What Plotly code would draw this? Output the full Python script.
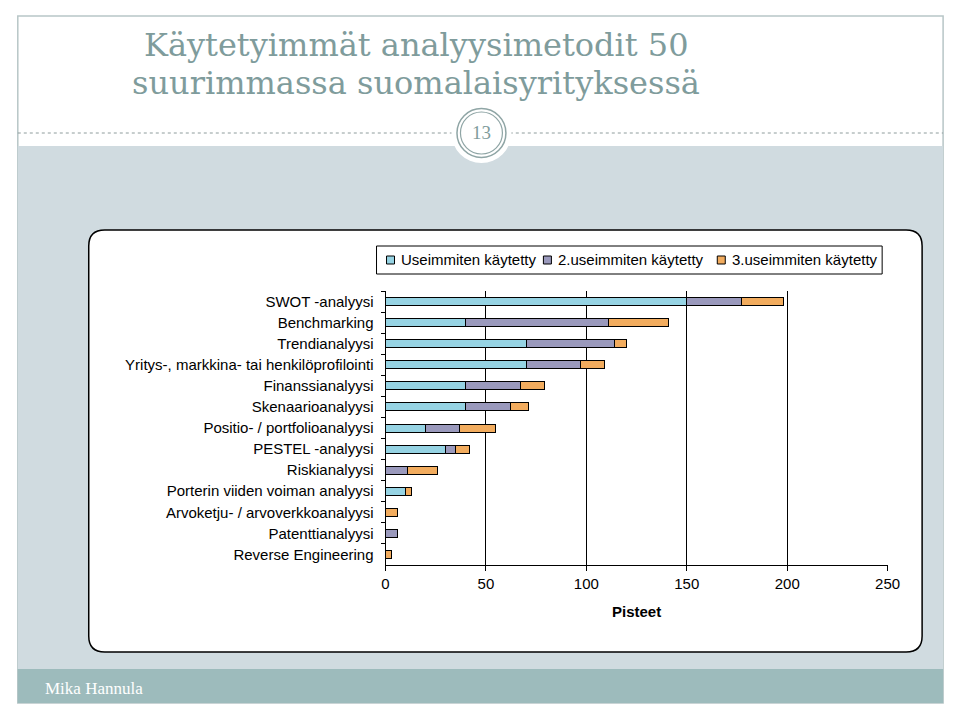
import plotly.graph_objects as go

# ---- data ----
categories = [
    "SWOT -analyysi",
    "Benchmarking",
    "Trendianalyysi",
    "Yritys-, markkina- tai henkilöprofilointi",
    "Finanssianalyysi",
    "Skenaarioanalyysi",
    "Positio- / portfolioanalyysi",
    "PESTEL -analyysi",
    "Riskianalyysi",
    "Porterin viiden voiman analyysi",
    "Arvoketju- / arvoverkkoanalyysi",
    "Patenttianalyysi",
    "Reverse Engineering",
]
most_used = [150, 40, 70, 70, 40, 40, 20, 30, None, 10, None, None, None]
second_used = [27, 71, 44, 27, 27, 22, 17, 5, 11, None, None, 6, None]
third_used = [21, 30, 6, 12, 12, 9, 18, 7, 15, 3, 6, None, 3]
series_names = ["Useimmiten käytetty", "2.useimmiten käytetty", "3.useimmiten käytetty"]
x_ticks = [0, 50, 100, 150, 200, 250]

colors = ["#96D3E3", "#9A99BC", "#F2AC5E"]

# figure sized to fit inside the 960x720 window with the page's body margin
OFF_Y = 8
W, H = 944, 704
# observed horizontal placement of the figure in the photographed page
X_ORIGIN, X_SPAN = 11.2, 927.7


def px(x):
    """screen pixel x -> paper fraction"""
    return (x - X_ORIGIN) / X_SPAN


def py(y):
    """screen pixel y (from top) -> paper fraction"""
    return 1 - (y - OFF_Y) / H


SANS = "Liberation Sans, Arial, sans-serif"
TSERIF = "Liberation Serif, Times New Roman, serif"
DSERIF = "DejaVu Serif, Georgia, serif"
TITLE_COL = "#7F9C9C"

fig = go.Figure()
for name, vals, col in zip(series_names, [most_used, second_used, third_used], colors):
    fig.add_trace(go.Bar(
        y=categories, x=vals, name=name, orientation="h",
        marker=dict(color=col, line=dict(color="black", width=1)),
        showlegend=False,
    ))

shapes = []
# slide frame
shapes.append(dict(type="rect", xref="paper", yref="paper", x0=px(17), x1=px(943), y0=py(703), y1=py(16),
                   fillcolor="white", line=dict(color="#B8C6C7", width=1.5), layer="below"))
# content band
shapes.append(dict(type="rect", xref="paper", yref="paper", x0=px(17), x1=px(943), y0=py(669), y1=py(146),
                   fillcolor="#D0DBE0", line=dict(width=0), layer="below"))
# footer band
shapes.append(dict(type="rect", xref="paper", yref="paper", x0=px(17), x1=px(943), y0=py(703), y1=py(669),
                   fillcolor="#9DBBBC", line=dict(width=0), layer="below"))
# dotted divider
shapes.append(dict(type="line", xref="paper", yref="paper", x0=px(17), x1=px(943), y0=py(133), y1=py(133),
                   line=dict(color="#8E9C9C", width=1, dash="dot"), layer="below"))
# page number circle
cx, cy = 481, 133
for r, fill, lw in [(30, "white", 0), (24.5, "rgba(0,0,0,0)", 1.5), (21, "rgba(0,0,0,0)", 1.2)]:
    shapes.append(dict(type="circle", xref="paper", yref="paper",
                       x0=px(cx - r), x1=px(cx + r), y0=py(cy + r), y1=py(cy - r),
                       fillcolor=fill, line=dict(color="#8FA5A5", width=lw), layer="below"))
# chart box (rounded)
x0, x1, y0, y1, rad = 88, 922, 230, 652, 16
rx, ry = rad / X_SPAN, rad / H
X0, X1, Y0, Y1 = px(x0), px(x1), py(y0), py(y1)
path = (f"M {X0+rx},{Y0} L {X1-rx},{Y0} Q {X1},{Y0} {X1},{Y0-ry} "
        f"L {X1},{Y1+ry} Q {X1},{Y1} {X1-rx},{Y1} "
        f"L {X0+rx},{Y1} Q {X0},{Y1} {X0},{Y1+ry} "
        f"L {X0},{Y0-ry} Q {X0},{Y0} {X0+rx},{Y0} Z")
shapes.append(dict(type="path", xref="paper", yref="paper", path=path,
                   fillcolor="white", line=dict(color="black", width=1.5), layer="below"))
# legend box
shapes.append(dict(type="rect", xref="paper", yref="paper", x0=px(376), x1=px(882), y0=py(274), y1=py(246),
                   fillcolor="white", line=dict(color="black", width=1)))
legend_marker_x = [386, 543, 717]
legend_text_x = [398, 556, 730]
annotations = []
for mx, tx, col, name in zip(legend_marker_x, legend_text_x, colors, series_names):
    shapes.append(dict(type="rect", xref="paper", yref="paper", x0=px(mx), x1=px(mx + 8),
                       y0=py(264), y1=py(256), fillcolor=col, line=dict(color="black", width=1)))
    annotations.append(dict(xref="paper", yref="paper", x=px(tx), y=py(260), text=name,
                            showarrow=False, xanchor="left", yanchor="middle",
                            font=dict(family=SANS, size=15, color="black")))

# titles and slide text
annotations.append(dict(xref="paper", yref="paper", x=px(416), y=py(45), text="Käytetyimmät analyysimetodit 50",
                        showarrow=False, xanchor="center", yanchor="middle",
                        font=dict(family=DSERIF, size=32, color=TITLE_COL)))
annotations.append(dict(xref="paper", yref="paper", x=px(416), y=py(83), text="suurimmassa suomalaisyrityksessä",
                        showarrow=False, xanchor="center", yanchor="middle",
                        font=dict(family=DSERIF, size=32, color=TITLE_COL)))
annotations.append(dict(xref="paper", yref="paper", x=px(cx), y=py(cy), text="13",
                        showarrow=False, xanchor="center", yanchor="middle",
                        font=dict(family=TSERIF, size=19, color=TITLE_COL)))
annotations.append(dict(xref="paper", yref="paper", x=px(42), y=py(688), text="Mika Hannula",
                        showarrow=False, xanchor="left", yanchor="middle",
                        font=dict(family=TSERIF, size=17, color="white")))

fig.update_layout(
    width=W, height=H, autosize=False,
    margin=dict(l=0, r=0, t=0, b=0),
    paper_bgcolor="white", plot_bgcolor="white",
    barmode="stack", bargap=0.62,
    shapes=shapes, annotations=annotations,
    font=dict(family=SANS, size=15, color="black"),
    xaxis=dict(
        domain=[px(385), px(887.5)], range=[0, 250], tickvals=x_ticks,
        showgrid=True, gridcolor="black", gridwidth=1, zeroline=False,
        showline=True, linecolor="black", linewidth=1,
        ticks="outside", ticklen=5, tickcolor="black", tickwidth=1,
        tickfont=dict(family=SANS, size=15, color="black"),
        title=dict(text="<b>Pisteet</b>", standoff=15, font=dict(family=SANS, size=15, color="black")),
    ),
    yaxis=dict(
        domain=[py(565), py(291)], type="category",
        categoryorder="array", categoryarray=categories, autorange="reversed",
        showgrid=False, zeroline=False,
        showline=True, linecolor="black", linewidth=1,
        ticks="outside", tickson="boundaries", ticklen=4, tickcolor="black", tickwidth=1,
        tickfont=dict(family=SANS, size=15, color="black"), ticklabelstandoff=8,
    ),
)

fig.write_html("out.html")
